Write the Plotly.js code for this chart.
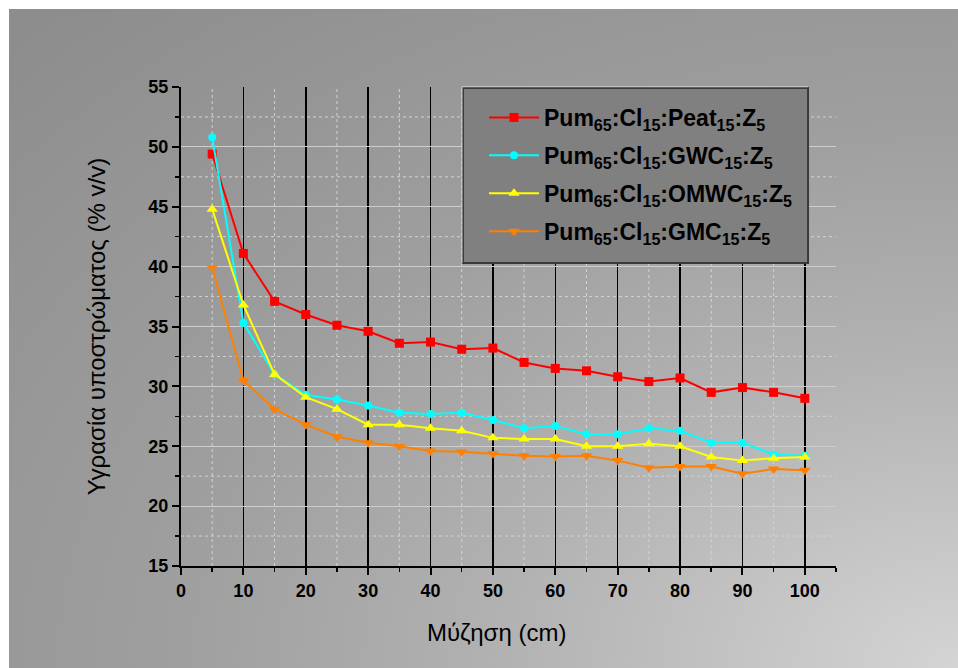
<!DOCTYPE html>
<html>
<head>
<meta charset="utf-8">
<script src="https://cdn.plot.ly/plotly-3.0.1.min.js"></script>
<style>
  html, body { margin: 0; padding: 0; background: #ffffff; }
  #bg { position: absolute; left: 9px; top: 9px; width: 949px; height: 659px;
        background: radial-gradient(ellipse 1300px 900px at 949px 659px, #d4d4d4 0%, #b2b2b2 35%, #9f9f9f 60%, #8d8d8d 100%); }
  #chart { position: absolute; left: 0; top: 0; width: 958px; height: 668px; }
</style>
</head>
<body>
<div id="bg"></div>
<div id="chart"></div>
<script>
// Depth (cm)
const depth = [5, 10, 15, 20, 25, 30, 35, 40, 45, 50, 55, 60, 65, 70, 75, 80, 85, 90, 95, 100];
// Substrate moisture (% v/v)
const peat = [49.4, 41.1, 37.1, 36.0, 35.1, 34.6, 33.6, 33.7, 33.1, 33.2, 32.0, 31.5, 31.3, 30.8, 30.4, 30.7, 29.5, 29.9, 29.5, 29.0];
const gwc  = [50.8, 35.3, 31.0, 29.3, 28.9, 28.4, 27.8, 27.7, 27.8, 27.2, 26.5, 26.7, 26.0, 26.0, 26.5, 26.3, 25.3, 25.3, 24.3, 24.2];
const omwc = [44.8, 36.8, 31.0, 29.1, 28.1, 26.8, 26.8, 26.5, 26.3, 25.7, 25.6, 25.6, 25.0, 25.0, 25.2, 25.0, 24.1, 23.8, 24.0, 24.1];
const gmc  = [39.9, 30.5, 28.1, 26.8, 25.8, 25.3, 25.0, 24.6, 24.55, 24.4, 24.2, 24.15, 24.2, 23.8, 23.2, 23.3, 23.3, 22.7, 23.1, 23.0];

const names = [
  'Pum<sub>65</sub>:Cl<sub>15</sub>:Peat<sub>15</sub>:Z<sub>5</sub>',
  'Pum<sub>65</sub>:Cl<sub>15</sub>:GWC<sub>15</sub>:Z<sub>5</sub>',
  'Pum<sub>65</sub>:Cl<sub>15</sub>:OMWC<sub>15</sub>:Z<sub>5</sub>',
  'Pum<sub>65</sub>:Cl<sub>15</sub>:GMC<sub>15</sub>:Z<sub>5</sub>'
];
const xTitle = 'Μύζηση (cm)';
const yTitle = 'Υγρασία υποστρώματος (% v/v)';
// minor grid positions (dotted)
const xMinor = [5, 15, 25, 35, 45, 55, 65, 75, 85, 95];
const yMinor = [17.5, 22.5, 27.5, 32.5, 37.5, 42.5, 47.5, 52.5];

const series = [peat, gwc, omwc, gmc];
const colors = ['#ff0000', '#00ffff', '#ffff00', '#ff8000'];
const symbols = ['square', 'circle', 'triangle-up', 'triangle-down'];
const sizes = [9, 8, 10, 10];

const traces = series.map((s, i) => ({
  x: depth, y: s, name: names[i], type: 'scatter', mode: 'lines+markers',
  legendgroup: 'g' + i,
  line: { color: colors[i], width: 2 },
  marker: { color: colors[i], symbol: symbols[i], size: sizes[i] }
}));

const tickFont = { family: 'Liberation Sans, Arial, sans-serif', size: 18, color: '#000', weight: 'bold' };
const titleFont = { family: 'Liberation Sans, Arial, sans-serif', size: 24, color: '#000' };

const dotLine = { color: '#d2d2d2', width: 1, dash: 'dot' };
const shapes = [];
xMinor.forEach(v => shapes.push({ type: 'line', xref: 'x', yref: 'paper', x0: v, x1: v, y0: 0, y1: 1, line: dotLine, layer: 'below' }));
yMinor.forEach(v => shapes.push({ type: 'line', xref: 'paper', yref: 'y', x0: 0, x1: 1, y0: v, y1: v, line: dotLine, layer: 'below' }));
shapes.push(
  { type: 'rect', xref: 'paper', yref: 'paper', x0: 0.4305, x1: 0.9573, y0: 0.6326, y1: 0.9979,
    fillcolor: '#808080', opacity: 1, line: { color: '#3a3a3a', width: 2 }, layer: 'above' },
  { type: 'line', xref: 'paper', yref: 'paper', x0: 0.4290, x1: 0.9573, y0: 1.0005, y1: 1.0005,
    line: { color: '#d0d0d0', width: 1 }, layer: 'above' },
  { type: 'line', xref: 'paper', yref: 'paper', x0: 0.4290, x1: 0.4290, y0: 0.6326, y1: 1.0005,
    line: { color: '#d0d0d0', width: 1 }, layer: 'above' }
);

const layout = {
  width: 958, height: 668,
  paper_bgcolor: 'rgba(0,0,0,0)', plot_bgcolor: 'rgba(0,0,0,0)',
  margin: { l: 181, r: 122, t: 87, b: 102 },
  showlegend: true,
  legend: {
    x: 0.4626, y: 0.9812, xanchor: 'left', yanchor: 'top',
    bgcolor: '#808080', borderwidth: 0,
    font: { family: 'Liberation Sans, Arial, sans-serif', size: 23, color: '#000', weight: 'bold' },
    tracegroupgap: 5, itemwidth: 50
  },
  shapes: shapes,
  annotations: [
    { text: xTitle, xref: 'paper', yref: 'paper', x: 0.481, y: -0.1378, xanchor: 'center', yanchor: 'middle',
      showarrow: false, font: titleFont }
  ],
  xaxis: {
    range: [0, 105], dtick: 10, tick0: 0,
    showline: true, linecolor: '#000', linewidth: 2,
    ticks: 'outside', ticklen: 7, tickwidth: 2, tickcolor: '#000',
    showgrid: true, gridcolor: '#000', gridwidth: 1.5,
    zeroline: false,
    tickfont: tickFont,
    minor: { dtick: 5, ticks: 'outside', ticklen: 4, tickwidth: 1.5, tickcolor: '#000', showgrid: false }
  },
  yaxis: {
    range: [15, 55], dtick: 5, tick0: 15,
    showline: true, linecolor: '#000', linewidth: 2,
    ticks: 'outside', ticklen: 7, tickwidth: 2, tickcolor: '#000',
    showgrid: true, gridcolor: '#cdcdcd', gridwidth: 1,
    zeroline: false,
    tickfont: tickFont,
    minor: { dtick: 2.5, ticks: 'outside', ticklen: 4, tickwidth: 1.5, tickcolor: '#000', showgrid: false },
    title: { text: yTitle, font: titleFont, standoff: 36 }
  }
};

Plotly.newPlot('chart', traces, layout, { displayModeBar: false, staticPlot: true });
</script>
</body>
</html>
